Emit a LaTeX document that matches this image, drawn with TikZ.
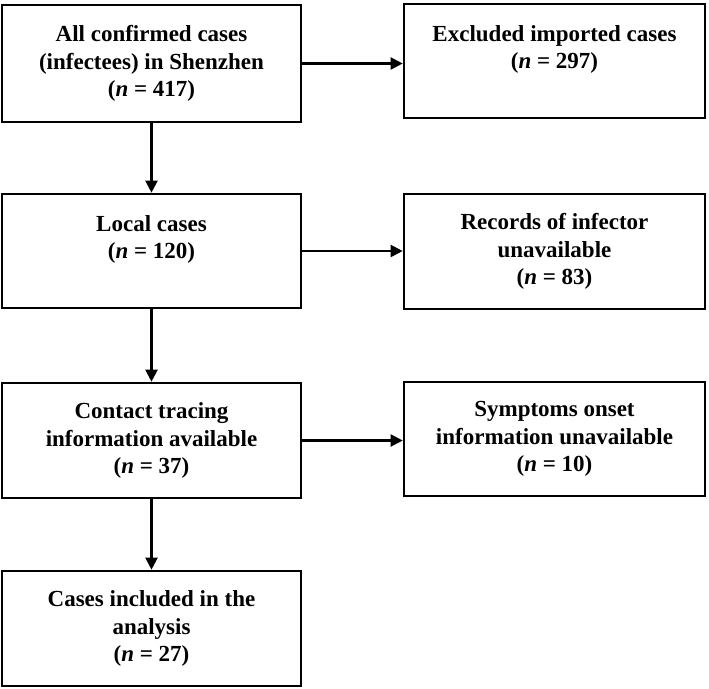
\documentclass[tikz,border=0pt]{standalone}
\usepackage{fontspec}
\setmainfont{Liberation Serif}
\usetikzlibrary{arrows.meta}
\tikzset{
  box/.style={draw, line width=2.6pt, inner sep=0pt, align=center,
    font=\fontsize{23}{27.5}\selectfont\bfseries},
  leftbox/.style={box, minimum width=299pt},
  rightbox/.style={box, minimum width=301pt},
  arr/.style={line width=2.1pt, -{Triangle[length=12pt,width=12pt]}}
}
\newcommand{\nn}[1]{(\textit{n} = #1)}
\begin{document}
\begin{tikzpicture}[x=1pt,y=-1pt]
\useasboundingbox (0,0) rectangle (709,688);
\node[leftbox, minimum height=117pt] (A) at (151.5,63.5) {All confirmed cases\\(infectees) in Shenzhen\\\nn{417}};
\node[rightbox, minimum height=114pt] (B) at (554.5,61) {Excluded imported cases\\\nn{297}\\\mbox{}};
\node[leftbox, minimum height=114pt] (C) at (151.5,251) {Local cases\\\nn{120}\\\mbox{}};
\node[rightbox, minimum height=115pt] (D) at (554.5,251.5) {Records of infector\\unavailable\\\nn{83}};
\node[leftbox, minimum height=115pt] (E) at (151.5,440.5) {Contact tracing\\information available\\\nn{37}};
\node[rightbox, minimum height=114pt] (F) at (554.5,439) {Symptoms onset\\information unavailable\\\nn{10}};
\node[leftbox, minimum height=115pt] (G) at (151.5,628.5) {Cases included in the\\analysis\\\nn{27}};
\draw[arr] (A.east) -- (A.east -| B.west);
\draw[arr] (C.east) -- (C.east -| D.west);
\draw[arr] (E.east) -- (E.east -| F.west);
\draw[arr] (A.south) -- (C.north);
\draw[arr] (C.south) -- (E.north);
\draw[arr] (E.south) -- (G.north);
\end{tikzpicture}
\end{document}
